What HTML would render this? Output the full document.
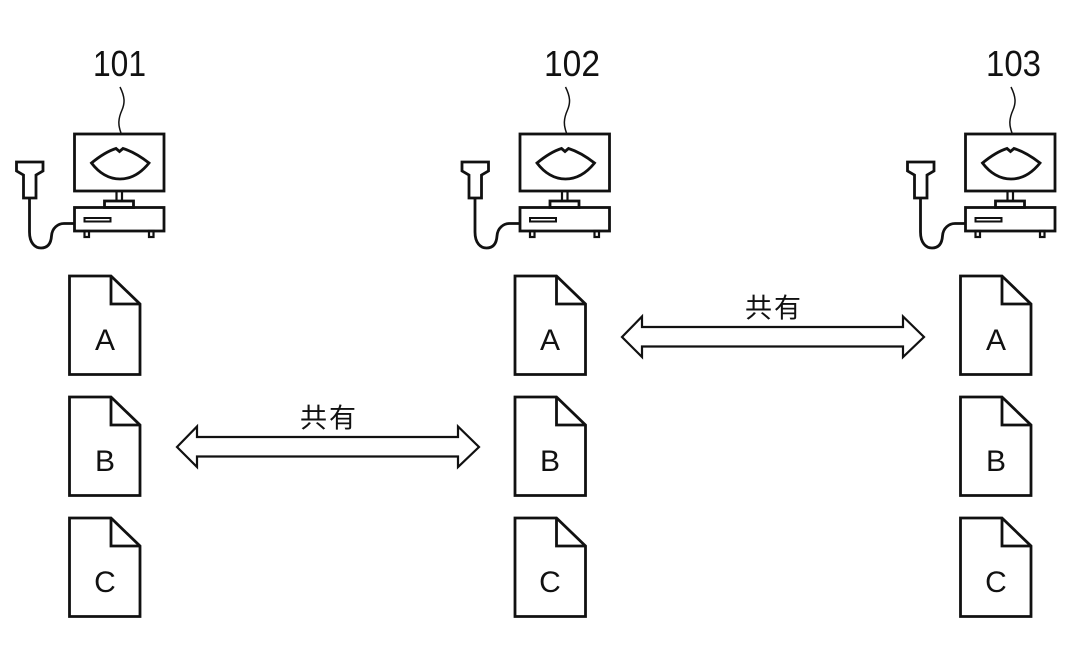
<!DOCTYPE html>
<html><head><meta charset="utf-8"><style>
html,body{margin:0;padding:0;background:#fff}
svg{display:block}
.n{font-family:"Liberation Sans",sans-serif;font-size:36px;fill:#111}
.l{font-family:"Liberation Sans",sans-serif;font-size:30px;fill:#111}
.k{font-family:"Liberation Sans","Noto Sans CJK JP",sans-serif;font-size:27px;fill:#111}
</style></head><body>
<svg width="1071" height="661" viewBox="0 0 1071 661" xmlns="http://www.w3.org/2000/svg">
<defs>
<g id="pc" fill="none" stroke="#111" stroke-width="2.800">
<path d="M120 87C125 97 125 103 122 110C118 119 118 125 121 133" stroke-width="1.500"/>
<rect x="74.500" y="134" width="89.500" height="57"/>
<path d="M91.500 163C100 156 108 151 116 148.500L119.500 151.500L123 148.500C131 151 140 156 149 163C141 173 131 179 120 179C109 179 99 173 91.500 163Z"/>
<path d="M116.500 191V201M122 191V201" stroke-width="2.200"/>
<rect x="104.500" y="201" width="29" height="6.500"/>
<rect x="74.500" y="207.500" width="89.500" height="23.500"/>
<rect x="84.500" y="218" width="26" height="3.500" stroke-width="2"/>
<rect x="84.500" y="231" width="4.500" height="6" stroke-width="2.200"/>
<rect x="149" y="231" width="4.500" height="6" stroke-width="2.200"/>
<path d="M16.500 162H43V171L36 175V198H23.500V175L16.500 171Z"/>
<path d="M29.500 198V232C29.500 243 35 248 41 248C48 248 51 243 51.500 236C52 228 58 223.500 64 223.500H74"/>
</g>
<g id="doc" fill="none" stroke="#111" stroke-width="2.800">
<path d="M69.500 276H111L140 304V374.500H69.500Z"/>
<path d="M111 276V304H140"/>
</g>
<path id="arrow" fill="#fff" stroke="#111" stroke-width="2.200" d="M177 447L197 426.500V437H458V426.500L479 447L458 467V456.500H197V467Z"/>
</defs>

<text class="n" x="93" y="76" textLength="53" lengthAdjust="spacingAndGlyphs">101</text>
<text class="n" x="544" y="76" textLength="56" lengthAdjust="spacingAndGlyphs">102</text>
<text class="n" x="986" y="76" textLength="55" lengthAdjust="spacingAndGlyphs">103</text>

<use href="#pc"/>
<use href="#pc" x="445.500"/>
<use href="#pc" x="891"/>

<use href="#doc"/><use href="#doc" y="121"/><use href="#doc" y="242"/>
<use href="#doc" x="445.500"/><use href="#doc" x="445.500" y="121"/><use href="#doc" x="445.500" y="242"/>
<use href="#doc" x="891"/><use href="#doc" x="891" y="121"/><use href="#doc" x="891" y="242"/>

<text class="l" text-anchor="middle" x="105" y="350">A</text><text class="l" text-anchor="middle" x="105" y="471">B</text><text class="l" text-anchor="middle" x="105" y="592">C</text>
<text class="l" text-anchor="middle" x="550" y="350">A</text><text class="l" text-anchor="middle" x="550" y="471">B</text><text class="l" text-anchor="middle" x="550" y="592">C</text>
<text class="l" text-anchor="middle" x="996" y="350">A</text><text class="l" text-anchor="middle" x="996" y="471">B</text><text class="l" text-anchor="middle" x="996" y="592">C</text>

<use href="#arrow"/>
<use href="#arrow" x="445" y="-110"/>
<text class="k" x="300" y="427.500" textLength="56">共有</text>
<text class="k" x="745" y="317.500" textLength="56">共有</text>
</svg>
</body></html>
